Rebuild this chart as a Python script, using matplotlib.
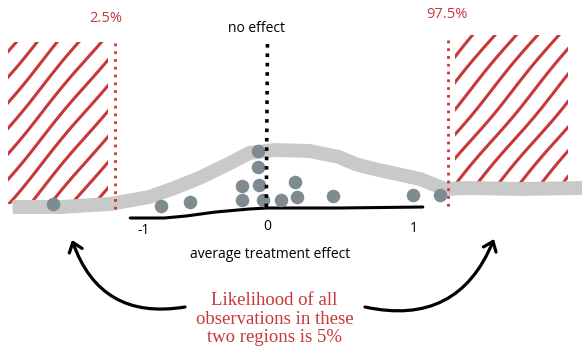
import matplotlib
matplotlib.use("Agg")
import matplotlib.pyplot as plt
from matplotlib.patches import Rectangle, FancyArrowPatch
import numpy as np

# ---- data (x in treatment-effect units, y in drawing height units) ----
obs_x = [-1.456, -0.721, -0.524, -0.170, -0.170, -0.061, -0.061, -0.054,
         -0.027, 0.095, 0.190, 0.204, 0.449, 0.993, 1.177]
obs_y = [142, 140, 144, 146, 160, 195, 179, 161, 146, 146, 164, 149, 150, 151, 151]

curve_x = [-1.73, -1.40, -1.07, -0.80, -0.63, -0.46, -0.25, -0.12, 0.05,
           0.29, 0.49, 0.60, 0.73, 1.04, 1.21, 1.38, 1.72, 2.15]
curve_y = [139, 139, 142, 149, 158, 168, 183, 193, 196, 195, 189, 182,
           177, 167, 157, 158, 157, 158]

base_x = [-0.93, -0.70, -0.55, -0.35, -0.12, 0.0, 0.50, 1.06]
base_y = [128, 128, 130, 134, 137, 138, 138, 139]

tick_pos = [-0.84, 0.0, 1.0]
tick_labels = ["-1", "0", "1"]

q_low, q_high = -1.034, 1.231   # 2.5% and 97.5% quantile positions
q_labels = ["2.5%", "97.5%"]

RED = "#c8373a"
DOT = "#7e8c90"
BAND = "#c9c9c9"

fig = plt.figure(figsize=(5.82, 3.46), dpi=100)
ax = fig.add_axes([0, 0, 1, 1])
ax.set_xlim(-267 / 147, (582 - 267) / 147)
ax.set_ylim(0, 346)
ax.axis("off")

# hatched rejection regions
for (x0, x1, y0, y1) in [(-1.76, -1.08, 142, 304), (1.28, 2.05, 161, 311)]:
    r = Rectangle((x0, y0), x1 - x0, y1 - y0, facecolor="none", lw=0)
    ax.add_patch(r)
    for k in np.arange(-20, 30):
        xs = np.array([x0 - 1.5, x1 + 1.5])
        c = x0 + k * 0.145
        ys = y0 + (xs - c) * 147 * 1.2
        ln, = ax.plot(xs, ys, color=RED, lw=2.2, solid_capstyle="round", zorder=2)
        ln.set_clip_path(r)
        ln.set_sketch_params(0.8, 140, 1.5)

# gray density band
ax.plot(curve_x, curve_y, color=BAND, lw=10, solid_capstyle="butt",
        solid_joinstyle="round", zorder=3)

# baseline axis
ax.plot(base_x, base_y, color="black", lw=2.2, solid_capstyle="round", zorder=4)

# observations
ax.scatter(obs_x, obs_y, s=95, color=DOT, zorder=5, linewidths=0)

# no effect line
ax.plot([0.003, -0.005], [302, 138], color="black", lw=2.6,
        linestyle=(0, (1, 1.6)), zorder=6)
ax.text(-0.07, 317, "no effect", ha="center", va="center", fontsize=10,
        family="Open Sans")

# quantile lines
ax.plot([q_low, q_low], [303, 132], color=RED, lw=2.0, linestyle=(0, (1, 1.8)), zorder=6)
ax.plot([q_high, q_high], [306, 136], color=RED, lw=2.0, linestyle=(0, (1, 1.8)), zorder=6)
ax.text(-1.10, 328, q_labels[0], ha="center", va="center", fontsize=10.5,
        color=RED, family="Open Sans")
ax.text(1.225, 331, q_labels[1], ha="center", va="center", fontsize=10.5,
        color=RED, family="Open Sans")

# ticks and axis label
for p, lab, yy in zip(tick_pos, tick_labels, [116, 120, 118]):
    ax.text(p, yy, lab, ha="center", va="center", fontsize=10, family="Open Sans")
ax.text(0.02, 92, "average treatment effect", ha="center", va="center",
        fontsize=10, family="Open Sans")

# arrows
def px(x):
    return (x - 267) / 147

a1 = FancyArrowPatch((px(185), 39), (px(72), 106),
                     arrowstyle="->,head_length=0.45,head_width=0.35",
                     connectionstyle="arc3,rad=-0.42", lw=2.3, color="black",
                     mutation_scale=14, shrinkA=0, shrinkB=0, zorder=6)
a2 = FancyArrowPatch((px(365), 39), (px(494), 107),
                     arrowstyle="->,head_length=0.45,head_width=0.35",
                     connectionstyle="arc3,rad=0.42", lw=2.3, color="black",
                     mutation_scale=14, shrinkA=0, shrinkB=0, zorder=6)
ax.add_patch(a1)
ax.add_patch(a2)

ax.text(0.05, 27, "Likelihood of all\nobservations in these\ntwo regions is 5%",
        ha="center", va="center", fontsize=13.5, color=RED,
        family="Liberation Serif", linespacing=1.08)

fig.savefig("out.png", dpi=100)
